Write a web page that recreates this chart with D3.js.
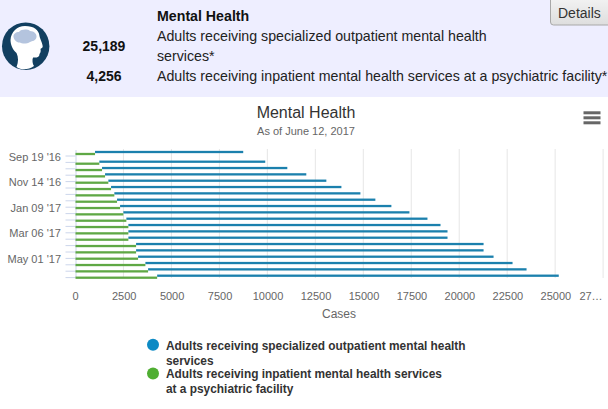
<!DOCTYPE html>
<html><head><meta charset="utf-8">
<script src="https://d3js.org/d3.v7.min.js"></script>
<style>
html,body{margin:0;padding:0;background:#fff;overflow:hidden}
svg{display:block;font-family:"Liberation Sans",Arial,sans-serif}
</style></head><body>
<svg id="c" width="608" height="409"></svg>
<script>
const categories=["Sep 19 '16","Oct 03 '16","Oct 17 '16","Oct 31 '16","Nov 14 '16","Nov 28 '16","Dec 12 '16","Dec 26 '16","Jan 09 '17","Jan 23 '17","Feb 06 '17","Feb 20 '17","Mar 06 '17","Mar 20 '17","Apr 03 '17","Apr 17 '17","May 01 '17","May 15 '17","May 29 '17","Jun 12 '17"];
const tickLabels=["Sep 19 '16","Nov 14 '16","Jan 09 '17","Mar 06 '17","May 01 '17"];
const outpatient=[8742,9890,11040,12030,13075,13860,14850,15630,16465,17405,18345,19025,19390,19390,21270,21270,21790,22780,23510,25189];
const inpatient=[1018,1242,1383,1540,1712,1853,2025,2166,2323,2495,2651,2756,2756,2756,3158,3158,3262,3643,3784,4256];
const xTicks=[0,2500,5000,7500,10000,12500,15000,17500,20000,22500,25000,27500];
const xTickLabels=["0","2500","5000","7500","10000","12500","15000","17500","20000","22500","25000","27…"];
const seriesNames=[["Adults receiving specialized outpatient mental health","services"],["Adults receiving inpatient mental health services","at a psychiatric facility"]];
const summaryNumbers=["25,189","4,256"];
const colors=["#0d8ac4","#4fae32"];

const svg=d3.select("#c");
// header
svg.append("rect").attr("width",608).attr("height",97).attr("fill","#eeeeff");
const g=svg.append("g");
g.append("ellipse").attr("cx",25.7).attr("cy",46.2).attr("rx",23.7).attr("ry",23.8).attr("fill","#123f60");
g.append("path").attr("d","M25 26C34 26 39 30 39.500 36C40 39 43 44 42.700 47C42 48 41 48.500 40.500 49C41 51 40.500 53 39.500 54C39.500 57 37 58 33 57.500C32 60 32.500 64 34 66C28 70.500 21 70 16.500 67C18.500 62 18.500 57 16.500 53C13 50 10.500 45 10.500 40C11 32 17 26 25 26Z").attr("fill","#fff");
g.append("path").attr("d","M13.500 37C13 34 16 32 19 32C21 29 28 29 30 31C34 31 37 34 36.500 37C36 41 32 41 30 42C27 44 22 44 20 42.500C17 43 14 40 13.500 37Z").attr("fill","#b4c4de");
const hdr=[["Mental Health",157,21,"bold","#111"],["Adults receiving specialized outpatient mental health",157,41,"normal","#222"],["services*",157,61,"normal","#222"],["Adults receiving inpatient mental health services at a psychiatric facility*",157,81,"normal","#222"]];
svg.append("g").selectAll("text").data(hdr).join("text").attr("x",d=>d[1]).attr("y",d=>d[2]).attr("font-weight",d=>d[3]).attr("fill",d=>d[4]).attr("font-size",14.2).text(d=>d[0]);
svg.append("g").selectAll("text").data(summaryNumbers).join("text").attr("x",104).attr("text-anchor","middle").attr("y",(d,i)=>[51,81][i]).attr("font-weight","bold").attr("font-size",14).attr("fill","#111").text(d=>d);
// button
const defs=svg.append("defs");
const lg=defs.append("linearGradient").attr("id","btn").attr("x1",0).attr("x2",0).attr("y1",0).attr("y2",1);
lg.append("stop").attr("offset",0).attr("stop-color","#f4f4f4");lg.append("stop").attr("offset",1).attr("stop-color","#dedede");
svg.append("rect").attr("x",550.5).attr("y",-4).attr("width",62).attr("height",29).attr("rx",3).attr("fill","url(#btn)").attr("stroke","#a8a8a8");
svg.append("text").attr("x",558).attr("y",18).attr("font-size",14).attr("fill","#333").text("Details");
// titles
svg.append("text").attr("x",306).attr("y",118).attr("text-anchor","middle").attr("font-size",16).attr("fill","#333").text("Mental Health");
svg.append("text").attr("x",306).attr("y",135).attr("text-anchor","middle").attr("font-size",11).attr("fill","#666").text("As of June 12, 2017");
// menu
svg.append("g").selectAll("rect").data(["a","b","c"]).join("rect").attr("x",583.500).attr("y",(d,i)=>111.300+i*5).attr("width",17).attr("height",3).attr("fill","#666");

const x=d3.scaleLinear().domain([0,27500]).range([75.5,603.1]);
const y=d3.scaleBand().domain(categories).range([149.600,277.600]);
const rowY=d3.scaleLinear().domain([0,1,19]).range([153,162.700,276.700]);
// grid
svg.append("g").selectAll("line").data(xTicks.slice(1)).join("line").attr("x1",d=>x(d)).attr("x2",d=>x(d)).attr("y1",149).attr("y2",278).attr("stroke","#e6e6e6");
// x labels
svg.append("g").selectAll("text").data(xTicks).join("text").attr("x",(d,i)=>i===xTicks.length-1?591:x(d)+(i?0.7:0)).attr("y",300).attr("text-anchor","middle").attr("font-size",11).attr("fill","#666").text((d,i)=>xTickLabels[i]);
svg.append("text").attr("x",339).attr("y",318).attr("text-anchor","middle").attr("font-size",12).attr("fill","#666").text("Cases");
// y axis
const axis=d3.axisLeft(y).tickValues(categories).tickSize(0).tickFormat("");
const ya=svg.append("g").attr("transform","translate(75.5,0)").call(axis);
ya.select(".domain").attr("stroke","#ccd6eb");
svg.append("g").selectAll("line").data(categories).join("line").attr("x1",65.500).attr("x2",75.500).attr("y1",d=>y(d)+y.bandwidth()).attr("y2",d=>y(d)+y.bandwidth()).attr("stroke","#ccd6eb");
svg.append("g").selectAll("text").data(tickLabels).join("text").attr("x",61).attr("y",d=>y(d)+y.bandwidth()+4.500).attr("text-anchor","end").attr("font-size",11).attr("fill","#666").text(d=>d);
// bars
const bh=2.3;
svg.append("g").selectAll("rect").data(categories).join("rect").attr("x",(d,i)=>x(inpatient[i])).attr("y",(d,i)=>rowY(i)-1-bh/2).attr("width",(d,i)=>x(outpatient[i])-x(inpatient[i])).attr("height",bh).attr("fill","#1b80ad");
svg.append("g").selectAll("rect").data(categories).join("rect").attr("x",x(0)).attr("y",(d,i)=>rowY(i)+1-bh/2).attr("width",(d,i)=>x(inpatient[i])-x(0)).attr("height",bh).attr("fill","#5fa845");
// legend
const lgd=svg.append("g");
seriesNames.forEach((n,i)=>{
  const top=[344.700,373.500][i];
  lgd.append("circle").attr("cx",153).attr("cy",top).attr("r",6).attr("fill",colors[i]);
  n.forEach((t,j)=>lgd.append("text").attr("x",166).attr("y",top+4.800+j*15).attr("font-size",11.880).attr("font-weight","bold").attr("fill","#333").text(t));
});
</script></body></html>
